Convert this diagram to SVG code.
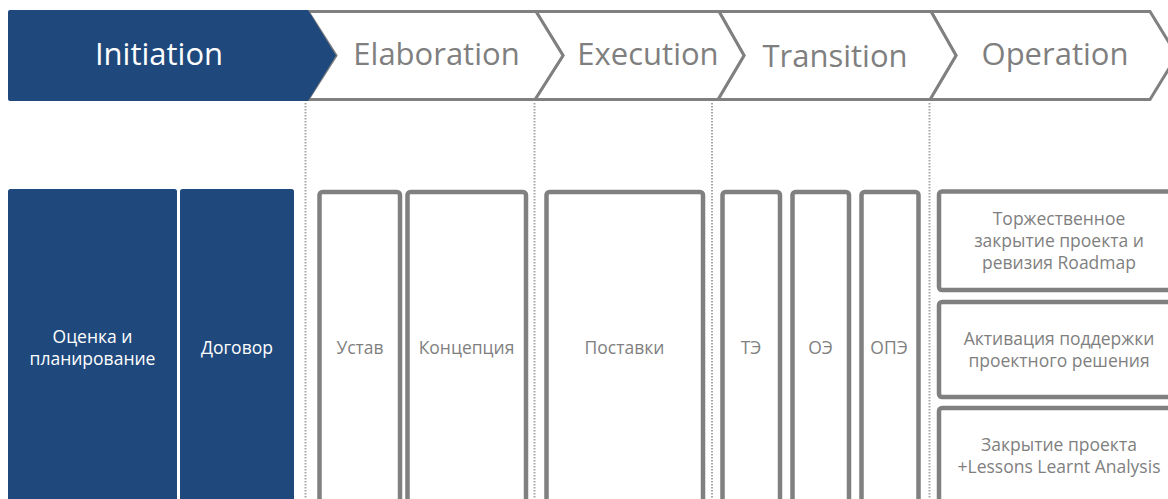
<svg xmlns="http://www.w3.org/2000/svg" width="1168" height="499" viewBox="0 0 1168 499">
<style>
  .hdr{font-family:"Open Sans","Noto Sans","DejaVu Sans",sans-serif;font-size:31px;fill:#7f7f7f;text-anchor:middle}
  .hdrw{fill:#ffffff}
  .lbl{font-family:"Open Sans","Noto Sans","DejaVu Sans",sans-serif;font-size:17.5px;fill:#7f7f7f;text-anchor:middle}
  .lblw{fill:#ffffff}
  .chev{fill:#ffffff;stroke:#808080;stroke-width:3;stroke-linejoin:miter}
  .box{fill:#ffffff;stroke:#808080;stroke-width:4.5}
  .blue{fill:#1f497d}
  .sep{stroke:#a6a6a6;stroke-width:2;stroke-dasharray:1.5 1.5;fill:none}
</style>
<rect width="1168" height="499" fill="#ffffff"/>

<g id="phase-operation">
  <polygon class="chev" points="931,11.5 1150,11.5 1177,55.5 1150,99.5 930,99.5 956,55.5"/>
  <text class="hdr" x="1055" y="65">Operation</text>
</g>
<g id="phase-transition">
  <polygon class="chev" points="719,11.5 931,11.5 956,55.5 930,99.5 718,99.5 744,55.5"/>
  <text class="hdr" x="835" y="67">Transition</text>
</g>
<g id="phase-execution">
  <polygon class="chev" points="536,11.5 719,11.5 744,55.5 718,99.5 535,99.5 563,55.5"/>
  <text class="hdr" x="648" y="65">Execution</text>
</g>
<g id="phase-elaboration">
  <polygon class="chev" points="308,11.5 536,11.5 563,55.5 535,99.5 308,99.5 336,55.5"/>
  <text class="hdr" x="436.5" y="65">Elaboration</text>
</g>
<g id="phase-initiation">
  <path class="blue" d="M10,10 L308,10 L336,55.5 L308,101 L10,101 Q8,101 8,99 L8,12 Q8,10 10,10 Z"/>
  <text class="hdr hdrw" x="159" y="65">Initiation</text>
</g>

<g id="separators">
  <line class="sep" x1="305.5" y1="103" x2="305.5" y2="499"/>
  <line class="sep" x1="534.5" y1="103" x2="534.5" y2="499"/>
  <line class="sep" x1="712" y1="103" x2="712" y2="499"/>
  <line class="sep" x1="929.5" y1="103" x2="929.5" y2="499"/>
</g>

<g id="node-otsenka">
  <rect class="blue" x="8" y="189" width="169" height="320" rx="2.5"/>
  <text class="lbl lblw" x="92.5" y="343">Оценка и</text>
  <text class="lbl lblw" x="92.5" y="365">планирование</text>
</g>
<g id="node-dogovor">
  <rect class="blue" x="180" y="189" width="114" height="320" rx="2.5"/>
  <text class="lbl lblw" x="237" y="354">Договор</text>
</g>
<g id="node-ustav">
  <rect class="box" x="319.5" y="192" width="80.5" height="320" rx="3"/>
  <text class="lbl" x="360" y="354">Устав</text>
</g>
<g id="node-kontseptsiya">
  <rect class="box" x="407.5" y="192" width="118.5" height="320" rx="3"/>
  <text class="lbl" x="466.5" y="354">Концепция</text>
</g>
<g id="node-postavki">
  <rect class="box" x="546.5" y="192" width="156.5" height="320" rx="3"/>
  <text class="lbl" x="624.5" y="354">Поставки</text>
</g>
<g id="node-te">
  <rect class="box" x="722.5" y="192" width="57.5" height="320" rx="3"/>
  <text class="lbl" x="751" y="354">ТЭ</text>
</g>
<g id="node-oe">
  <rect class="box" x="792.5" y="192" width="56.5" height="320" rx="3"/>
  <text class="lbl" x="820.5" y="354">ОЭ</text>
</g>
<g id="node-ope">
  <rect class="box" x="861.5" y="192" width="57" height="320" rx="3"/>
  <text class="lbl" x="889" y="354">ОПЭ</text>
</g>
<g id="node-torzhestvennoe">
  <rect class="box" x="939" y="191.5" width="240" height="98.5" rx="3"/>
  <text class="lbl" x="1059" y="225">Торжественное</text>
  <text class="lbl" x="1059" y="247">закрытие проекта и</text>
  <text class="lbl" x="1059" y="269">ревизия Roadmap</text>
</g>
<g id="node-aktivatsiya">
  <rect class="box" x="939" y="302" width="240" height="95" rx="3"/>
  <text class="lbl" x="1059" y="345">Активация поддержки</text>
  <text class="lbl" x="1059" y="367">проектного решения</text>
</g>
<g id="node-zakrytie">
  <rect class="box" x="939" y="408" width="240" height="110" rx="3"/>
  <text class="lbl" x="1059" y="451">Закрытие проекта</text>
  <text class="lbl" x="1059" y="473">+Lessons Learnt Analysis</text>
</g>
</svg>
